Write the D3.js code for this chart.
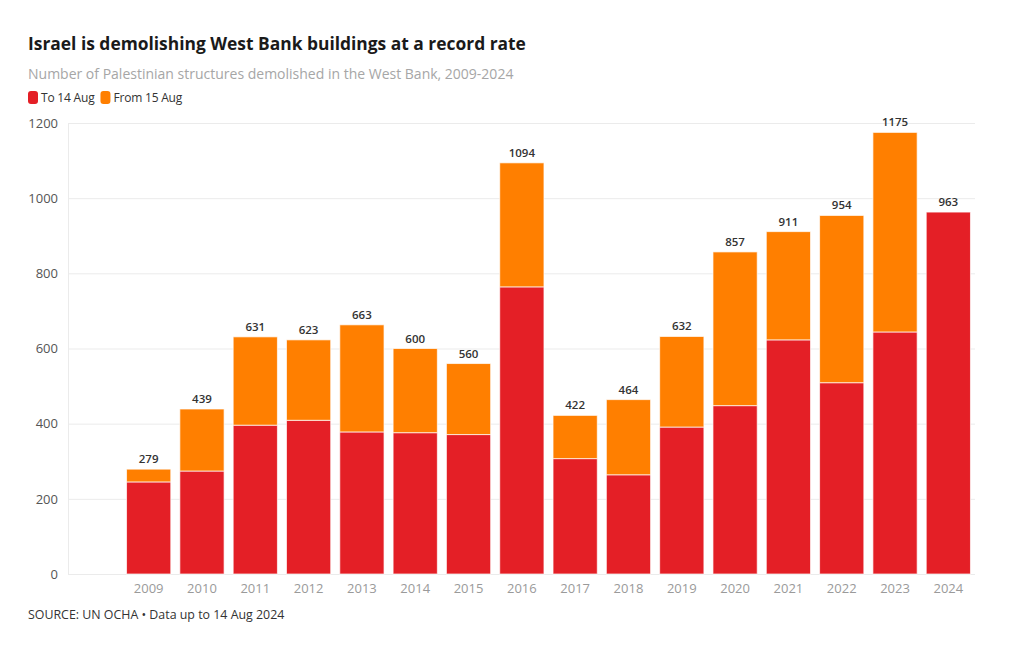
<!DOCTYPE html>
<html>
<head>
<meta charset="utf-8">
<script src="https://cdn.jsdelivr.net/npm/d3@7/dist/d3.min.js"></script>
<style>
  body { margin: 0; background: #fff; }
  svg { display: block; font-family: "Open Sans", "Noto Sans", sans-serif; }
</style>
</head>
<body>
<svg id="chart" width="1020" height="650"></svg>
<script>
const years = ["2009","2010","2011","2012","2013","2014","2015","2016","2017","2018","2019","2020","2021","2022","2023","2024"];
const toAug14 = [245, 274, 396, 409, 378, 376, 371, 764, 307, 264, 391, 448, 623, 509, 644, 963];
const totals = [279, 439, 631, 623, 663, 600, 560, 1094, 422, 464, 632, 857, 911, 954, 1175, 963];
const fromAug15 = totals.map((t, i) => t - toAug14[i]);
const yTicks = [0, 200, 400, 600, 800, 1000, 1200];
const seriesNames = ["To 14 Aug", "From 15 Aug"];
const colors = ["#e41f26", "#ff7f00"];

(function () {
const svg = d3.select("#chart");
const plotTop = 123, plotBottom = 574, gridLeft = 68, plotRight = 975;

const x = d3.scaleBand().domain(years).range([122, 975]).paddingInner(0.17).paddingOuter(0.085);
const y = d3.scaleLinear().domain([0, 1200]).range([plotBottom, plotTop]);

svg.append("text").attr("x", 28).attr("y", 50).attr("font-size", 17.4).attr("font-weight", 700)
  .attr("fill", "#1a1a1a").text("Israel is demolishing West Bank buildings at a record rate");
svg.append("text").attr("x", 28).attr("y", 79).attr("font-size", 14).attr("fill", "#a6a6a6")
  .text("Number of Palestinian structures demolished in the West Bank, 2009-2024");

const leg = svg.append("g");
let lx = 28;
seriesNames.forEach((n, i) => {
  leg.append("rect").attr("x", lx).attr("y", 91).attr("width", 10).attr("height", 13).attr("rx", 3)
    .attr("fill", colors[i]);
  const t = leg.append("text").attr("x", lx + 13).attr("y", 102).attr("font-size", 12)
    .attr("letter-spacing", -0.2).attr("fill", "#333").text(n);
  lx += 13 + t.node().getComputedTextLength() + 6;
});

svg.append("g").selectAll("line").data(yTicks).join("line")
  .attr("x1", gridLeft).attr("x2", plotRight).attr("y1", d => y(d) + 0.5).attr("y2", d => y(d) + 0.5)
  .attr("stroke", "#ebebeb").attr("stroke-width", 1);
svg.append("line").attr("x1", gridLeft + 0.5).attr("x2", gridLeft + 0.5).attr("y1", plotTop).attr("y2", plotBottom)
  .attr("stroke", "#ebebeb");

const yAxis = svg.append("g").attr("transform", `translate(${gridLeft - 10},0)`)
  .call(d3.axisLeft(y).tickValues(yTicks).tickFormat(d3.format("d")).tickSize(0).tickPadding(0));
yAxis.select(".domain").remove();
yAxis.selectAll("text").attr("font-size", 13).attr("fill", "#555").attr("font-family", "Open Sans, sans-serif");

const xAxis = svg.append("g").attr("transform", `translate(0,${plotBottom})`)
  .call(d3.axisBottom(x).tickSize(0).tickPadding(10));
xAxis.select(".domain").remove();
xAxis.selectAll("text").attr("font-size", 13).attr("fill", "#9a9a9a").attr("font-family", "Open Sans, sans-serif");

const stackData = years.map((yr, i) => ({ year: yr, a: toAug14[i], b: fromAug15[i] }));
const stack = d3.stack().keys(["a", "b"])(stackData);
svg.append("g").selectAll("g").data(stack).join("g")
  .attr("fill", (d, i) => colors[i])
  .selectAll("rect").data(d => d.filter(s => s[1] - s[0] > 0)).join("rect")
  .attr("x", d => x(d.data.year))
  .attr("width", x.bandwidth())
  .attr("y", d => y(d[1]))
  .attr("height", d => y(d[0]) - y(d[1]))
  .attr("stroke", "#fff").attr("stroke-opacity", 0.7).attr("stroke-width", 1);

svg.append("g").selectAll("text").data(years).join("text")
  .attr("x", d => x(d) + x.bandwidth() / 2)
  .attr("y", (d, i) => y(totals[i]) - 6)
  .attr("text-anchor", "middle").attr("font-size", 11.5).attr("font-weight", 600).attr("fill", "#333")
  .text((d, i) => totals[i]);

svg.append("text").attr("x", 28).attr("y", 619).attr("font-size", 12.4).attr("fill", "#333")
  .text("SOURCE: UN OCHA \u2022 Data up to 14 Aug 2024");
})();
</script>
</body>
</html>
